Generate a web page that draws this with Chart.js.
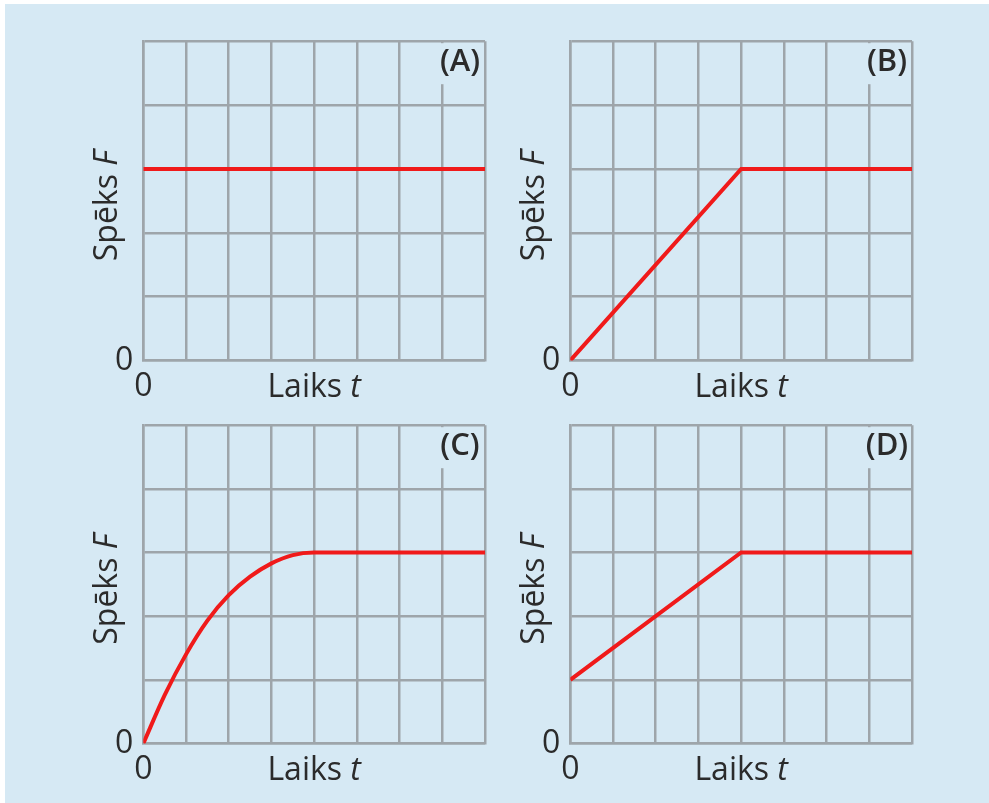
<!DOCTYPE html>
<html>
<head>
<meta charset="utf-8">
<script src="https://cdn.jsdelivr.net/npm/chart.js@4.4.0/dist/chart.umd.min.js"></script>
<style>
  html, body { margin: 0; padding: 0; background: #fff; width: 989px; height: 803px; overflow: hidden; }
  #bg { position: absolute; left: 5px; top: 4px; width: 984px; height: 799px; background: #d6e9f4; }
  canvas { position: absolute; }
</style>
</head>
<body>
<div id="bg"></div>
<canvas id="cA" width="420" height="398" style="left:90px;top:12px"></canvas>
<canvas id="cB" width="420" height="398" style="left:517px;top:12px"></canvas>
<canvas id="cC" width="420" height="397" style="left:90px;top:396px"></canvas>
<canvas id="cD" width="420" height="397" style="left:517px;top:396px"></canvas>
<script>
// values (time in grid columns, force in grid rows)
const panelLabels = ['(A)', '(B)', '(C)', '(D)'];
const timeA = [0, 8];
const forceA = [3, 3];
const timeB = [0, 4, 8];
const forceB = [0, 3, 3];
const timeC = [0, 0.5, 1, 1.5, 2, 2.5, 3, 3.5, 4, 8];
const forceC = [0, 0.76, 1.4, 1.93, 2.33, 2.62, 2.83, 2.96, 3, 3];
const timeD = [0, 4, 8];
const forceD = [1, 3, 3];
const xMax = 8;
const yMax = 5;
const zeroLabel = '0';
const xTitle = ['Laiks ', 't'];
const yTitle = ['Spēks ', 'F'];

const BG = '#d6e9f4';
const GRID = '#9ea5aa';
const RED = '#f01a1a';
const TEXT = '#2b2b2b';
const FONT = '"Open Sans", "Noto Sans", sans-serif';
const SIZE = 32;

const decorPlugin = {
  id: 'decor',
  beforeDatasetsDraw(chart, args, opts) {
    const a = chart.chartArea;
    const ctx = chart.ctx;
    ctx.save();
    // label box hides the grid behind the panel letter
    ctx.fillStyle = BG;
    ctx.fillRect(a.right - 58, a.top + 2, 56, 41);
    ctx.fillStyle = TEXT;
    ctx.font = '600 31px ' + FONT;
    ctx.textAlign = 'center';
    ctx.textBaseline = 'middle';
    ctx.fillText(opts.label, a.right - 25, a.top + 21);
    ctx.restore();
  },
  afterDraw(chart) {
    const a = chart.chartArea;
    const ctx = chart.ctx;
    ctx.save();
    ctx.fillStyle = TEXT;
    ctx.textBaseline = 'alphabetic';
    // axis titles, upright word plus italic symbol
    const drawMixed = (parts, cx, cy) => {
      ctx.font = SIZE + 'px ' + FONT;
      const w0 = ctx.measureText(parts[0]).width;
      ctx.font = 'italic ' + SIZE + 'px ' + FONT;
      const w1 = ctx.measureText(parts[1]).width;
      let x = cx - (w0 + w1) / 2;
      ctx.textAlign = 'left';
      ctx.font = SIZE + 'px ' + FONT;
      ctx.fillText(parts[0], x, cy);
      ctx.font = 'italic ' + SIZE + 'px ' + FONT;
      ctx.fillText(parts[1], x + w0, cy);
    };
    drawMixed(xTitle, (a.left + a.right) / 2, a.bottom + 36);
    ctx.translate(a.left - 26, (a.top + a.bottom) / 2 + 5);
    ctx.rotate(-Math.PI / 2);
    drawMixed(yTitle, 0, 0);
    ctx.restore();
  }
};

function makeChart(id, label, xs, ys, smooth) {
  const pts = xs.map((x, i) => ({ x: x, y: ys[i] }));
  return new Chart(document.getElementById(id), {
    type: 'line',
    data: {
      datasets: [{
        data: pts,
        borderColor: RED,
        borderWidth: 4,
        pointRadius: 0,
        fill: false,
        tension: 0,
        cubicInterpolationMode: smooth ? 'monotone' : 'default'
      }]
    },
    options: {
      responsive: false,
      animation: false,
      devicePixelRatio: 1,
      layout: { padding: { top: 10, right: 25, left: 0, bottom: 0 } },
      plugins: {
        legend: { display: false },
        tooltip: { enabled: false },
        decor: { label: label }
      },
      scales: {
        x: {
          type: 'linear',
          min: 0,
          max: xMax,
          afterFit(scale) { scale.height = 49.5; },
          grid: { color: GRID, lineWidth: 2.5, drawTicks: false },
          border: { color: GRID, width: 2.5 },
          ticks: {
            stepSize: 1,
            autoSkip: false,
            maxRotation: 0,
            padding: 7,
            color: TEXT,
            font: { family: FONT, size: SIZE },
            callback: v => (v === 0 ? zeroLabel : '')
          }
        },
        y: {
          type: 'linear',
          min: 0,
          max: yMax,
          afterFit(scale) { scale.width = 53.3; },
          grid: { color: GRID, lineWidth: 2.5, drawTicks: false },
          border: { color: GRID, width: 2.5 },
          ticks: {
            stepSize: 1,
            autoSkip: false,
            padding: 10,
            color: TEXT,
            font: { family: FONT, size: SIZE },
            callback: v => (v === 0 ? zeroLabel : '')
          }
        }
      }
    },
    plugins: [decorPlugin]
  });
}

makeChart('cA', panelLabels[0], timeA, forceA, false);
makeChart('cB', panelLabels[1], timeB, forceB, false);
makeChart('cC', panelLabels[2], timeC, forceC, true);
makeChart('cD', panelLabels[3], timeD, forceD, false);
</script>
</body>
</html>
